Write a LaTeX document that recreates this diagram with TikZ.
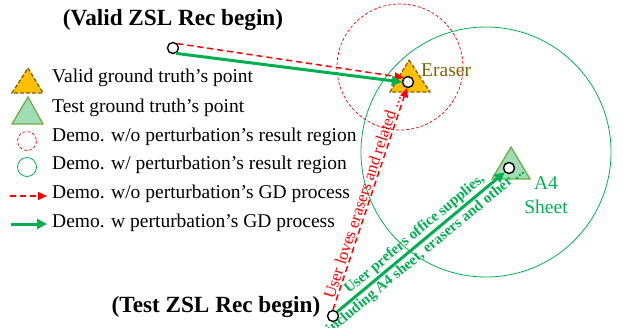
\documentclass[tikz,border=0pt]{standalone}
\usepackage{fontspec}
\setmainfont{Liberation Serif}
\usetikzlibrary{arrows.meta}
\definecolor{gdred}{RGB}{255,0,0}
\definecolor{gdgreen}{RGB}{0,176,80}
\definecolor{validfill}{RGB}{255,192,0}
\definecolor{validedge}{RGB}{127,96,0}
\definecolor{testfill}{RGB}{160,220,180}
\definecolor{testedge}{RGB}{112,173,71}
\tikzset{
  pt/.style={circle, draw=black, fill=white, line width=1.4pt, minimum size=11pt, inner sep=0pt},
  redpath/.style={draw=gdred, line width=1.5pt, dash pattern=on 6pt off 4pt,
    -{Triangle[length=9pt,width=8pt]}},
  greenpath/.style={draw=gdgreen, line width=3pt, -{Triangle[length=10pt,width=10pt]}},
  validtri/.style={fill=validfill, draw=validedge, line width=1.3pt, dash pattern=on 4pt off 2pt},
  testtri/.style={fill=testfill, draw=testedge, line width=1.3pt},
  redregion/.style={draw=gdred, line width=0.7pt, dash pattern=on 3pt off 2pt},
  greenregion/.style={draw=gdgreen, line width=0.8pt},
  legtext/.style={anchor=west, inner sep=0pt, font=\fontsize{19.5}{23}\selectfont},
  titletext/.style={inner sep=0pt, font=\bfseries\fontsize{23.2}{27}\selectfont},
}
\begin{document}
\begin{tikzpicture}[x=1pt, y=-1pt]
\useasboundingbox (0,0) rectangle (623,327);

% result regions
\draw[greenregion] (486,152) circle (125);
\draw[redregion] (400,67) circle (63);

% ground-truth triangles
\path[validtri] (409,60) -- (430,92) -- (390,92) -- cycle;
\path[testtri] (511,147) -- (530,179) -- (492,179) -- cycle;

% points
\node[pt] (vs) at (173,48) {};
\node[pt] (ts) at (333,316) {};
\node[pt] (er) at (408,82) {};
\node[pt] (a4) at (509,168) {};

% titles and labels
\node[titletext] (vt) at (173,20) {(Valid ZSL Rec begin)};
\node[titletext, anchor=east] (tt) at (320.5,307) {(Test ZSL Rec begin)};
\node[legtext, text=validedge] (erl) at (421,70) {Eraser};
\node[inner sep=0pt, align=center, text=gdgreen, font=\fontsize{19.5}{24}\selectfont] (a4l) at (546,195) {A4\\Sheet};

% gradient descent paths
\draw[redpath] (vs.45) -- (er.135);
\draw[greenpath] (vs.-60) -- (er.west);
\draw[redpath] (ts.north) -- (er.-100)
  node[sloped, above, pos=0.5, inner sep=1.5pt, text=gdred, font=\fontsize{16.5}{19}\selectfont] {User loves erasers and related ...};
\draw[greenpath] (ts.45) -- (a4.225)
  node[sloped, above, pos=0.5, inner sep=1.5pt, text=gdgreen, font=\bfseries\fontsize{15}{18}\selectfont] {User prefers office supplies,}
  node[sloped, below, pos=0.49, inner sep=1.5pt, text=gdgreen, font=\bfseries\fontsize{15}{18}\selectfont] {including A4 sheet, erasers and other ...};

% legend
\path[validtri] (28,68) -- (43,93) -- (12,93) -- cycle;
\path[testtri] (28,97) -- (43,124) -- (12,124) -- cycle;
\draw[redregion] (27,141) circle (9.5);
\draw[greenregion] (27,167) circle (9.5);
\coordinate (r0) at (10,196);
\coordinate (r1) at (47,196);
\coordinate (g0) at (11,224);
\coordinate (g1) at (47,224);
\draw[redpath] (r0) -- (r1);
\draw[greenpath] (g0) -- (g1);
\node[legtext] (l1) at (52,78) {Valid ground truth’s point};
\node[legtext] (l2) at (52,108) {Test ground truth’s point};
\node[legtext] (l3) at (52,137) {Demo. w/o perturbation’s result region};
\node[legtext] (l4) at (52,165) {Demo. w/ perturbation’s result region};
\node[legtext] (l5) at (52,194) {Demo. w/o perturbation’s GD process};
\node[legtext] (l6) at (52,223) {Demo. w perturbation’s GD process};
\end{tikzpicture}
\end{document}
